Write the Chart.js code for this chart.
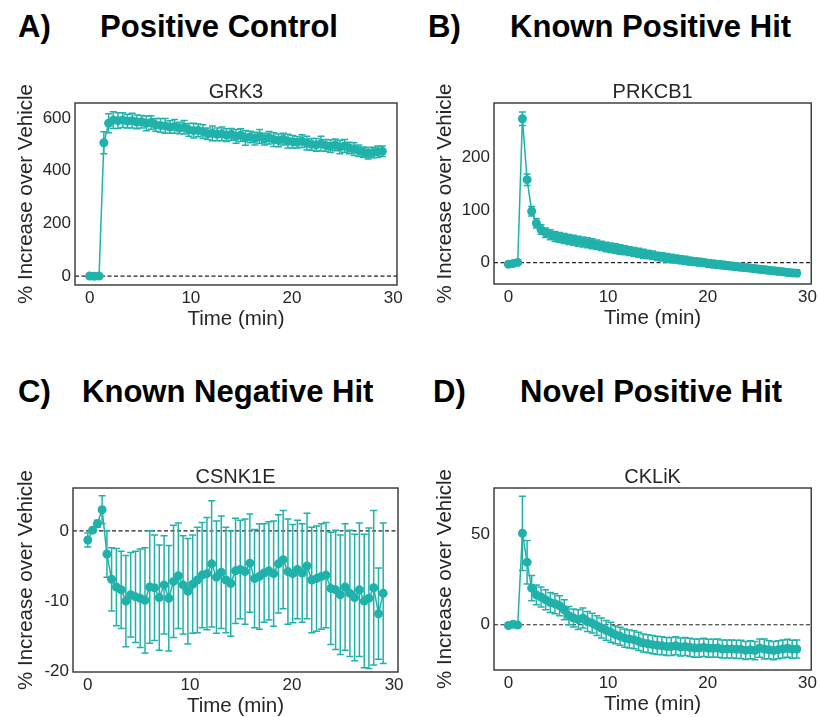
<!DOCTYPE html>
<html>
<head>
<meta charset="utf-8">
<script src="https://cdn.jsdelivr.net/npm/chart.js@4.4.1/dist/chart.umd.min.js"></script>
<style>
  html, body { margin: 0; padding: 0; background: #fff; }
  body { width: 820px; height: 717px; position: relative; overflow: hidden; }
  canvas { position: absolute; }
  .head {
    position: absolute; font: bold 32px 'Liberation Sans', Arial, sans-serif;
    line-height: 1; color: #000; white-space: nowrap;
    transform: scaleX(0.97); transform-origin: left top;
  }
</style>
</head>
<body>
<div class="head" style="left:18px;top:10px">A)</div>
<div class="head" style="left:100px;top:10px">Positive Control</div>
<div class="head" style="left:428px;top:10px">B)</div>
<div class="head" style="left:510px;top:10px">Known Positive Hit</div>
<div class="head" style="left:18px;top:375px">C)</div>
<div class="head" style="left:82px;top:375px">Known Negative Hit</div>
<div class="head" style="left:433px;top:375px">D)</div>
<div class="head" style="left:520px;top:375px">Novel Positive Hit</div>

<canvas id="chartA" width="410" height="275" style="left:0px;top:60px"></canvas>
<canvas id="chartB" width="402" height="275" style="left:418px;top:60px"></canvas>
<canvas id="chartC" width="410" height="275" style="left:0px;top:445px"></canvas>
<canvas id="chartD" width="402" height="275" style="left:418px;top:445px"></canvas>

<script>
// time points (min), one reading every 28 s
const times = [
  0, 0.47, 0.93, 1.4, 1.87, 2.33, 2.8, 3.27, 3.73, 4.2,
  4.67, 5.13, 5.6, 6.07, 6.53, 7.0, 7.47, 7.93, 8.4, 8.87,
  9.33, 9.8, 10.27, 10.73, 11.2, 11.67, 12.13, 12.6, 13.07, 13.53,
  14.0, 14.47, 14.93, 15.4, 15.87, 16.33, 16.8, 17.27, 17.73, 18.2,
  18.67, 19.13, 19.6, 20.07, 20.53, 21.0, 21.47, 21.93, 22.4, 22.87,
  23.33, 23.8, 24.27, 24.73, 25.2, 25.67, 26.13, 26.6, 27.07, 27.53,
  28.0, 28.47, 28.93
];

const grk3 = [
  0, -1, 0, 506, 580, 592, 590, 592, 588, 590,
  585, 586, 580, 583, 574, 572, 570, 566, 568, 562,
  565, 555, 552, 553, 548, 540, 542, 538, 540, 535,
  538, 530, 535, 525, 528, 522, 530, 520, 525, 518,
  515, 520, 512, 510, 508, 512, 505, 500, 498, 503,
  496, 493, 498, 490, 494, 486, 482, 476, 470, 466,
  469, 472, 474
];
const grk3Err = [
  2, 2, 2, 42, 36, 32, 30, 28, 26, 28,
  26, 24, 28, 26, 24, 26, 28, 24, 26, 22,
  26, 24, 28, 24, 26, 22, 28, 24, 26, 24,
  22, 26, 24, 28, 22, 24, 26, 22, 24, 26,
  24, 22, 26, 24, 22, 24, 26, 22, 24, 28,
  22, 24, 22, 26, 24, 22, 24, 22, 20, 22,
  20, 22, 20
];

const prkcb1 = [
  -3, -1.5, 0.5, 274, 158, 98, 75, 63, 57, 53,
  50, 48, 46, 44, 42.5, 41, 39.5, 38, 36, 34,
  32, 30, 28.5, 27, 25, 23.5, 22, 20.5, 19, 17,
  15.5, 14, 12, 11, 9.5, 8, 7, 5.5, 4.5, 3,
  2, 1, 0, -1.5, -2.5, -3.5, -4.5, -5.5, -6.5, -7.5,
  -8.5, -9.5, -10.5, -11.5, -12.5, -13.5, -14.5, -15.5, -16.5, -17.5,
  -18.5, -19.5, -20
];
const prkcb1Err = [
  2, 2, 2, 13, 11, 9, 9, 9, 9, 9.5,
  9.5, 9.5, 9.5, 9.5, 9.5, 9.5, 9.5, 9.5, 9.5, 9,
  9, 9, 9, 9, 9, 8.5, 8.5, 8.5, 8.5, 8.5,
  8, 8, 8, 8, 8, 8, 7.5, 7.5, 7.5, 7.5,
  7.5, 7.5, 7, 7, 7, 7, 7, 7, 7, 7,
  7, 7, 6.5, 6.5, 6.5, 6.5, 6.5, 6.5, 6.5, 6.5,
  6.5, 6.5, 6.5
];

const csnk1e = [
  -1.3, 0.1, 1.0, 3.0, -3.3, -6.9, -8.0, -8.4, -10.0, -9.1,
  -9.4, -9.6, -9.9, -8.0, -8.1, -9.5, -7.7, -9.6, -7.2, -6.4,
  -7.7, -8.6, -7.6, -7.0, -6.3, -6.1, -4.7, -6.6, -5.9, -7.0,
  -7.5, -5.7, -5.5, -5.8, -4.6, -6.8, -6.5, -6.0, -5.7, -6.1,
  -4.7, -4.1, -5.8, -6.1, -5.5, -6.0, -5.0, -7.0, -6.8, -6.5,
  -6.3, -8.2, -8.4, -9.1, -8.0, -8.9, -9.5, -8.4, -10.0, -9.6,
  -8.1, -11.8, -8.9
];
const csnk1eErr = [
  1.0, 0.3, 0.5, 2.0, 3.3, 4.5, 5.5, 5.5, 6.5, 6.0,
  6.5, 7.0, 7.5, 8.0, 7.5, 7.5, 7.0, 7.5, 8.0, 7.5,
  7.0, 7.5, 7.0, 7.5, 7.5, 8.0, 9.0, 8.0, 8.0, 7.5,
  7.5, 7.5, 7.0, 7.5, 7.0, 7.0, 7.5, 7.0, 7.0, 7.5,
  7.0, 7.0, 7.5, 7.0, 7.0, 7.0, 7.5, 7.5, 7.5, 7.5,
  7.5, 8.0, 8.5, 8.5, 9.0, 9.0, 9.0, 9.5, 9.5, 10.0,
  11.0, 6.5, 10.0
];

const cklik = [
  -0.4, 0.3, -0.2, 50.5, 34.5, 20.2, 16.5, 15.3, 13.8, 12.3,
  11.6, 10.5, 8.3, 5.0, 3.7, 2.8, 3.7, 1.8, 0.9, -0.5,
  -1.8, -3.1, -4.2, -5.5, -6.4, -7.4, -7.9, -8.3, -9.2, -10.1,
  -10.5, -11.0, -11.4, -11.6, -12.0, -12.0, -11.6, -12.3, -12.0, -12.5,
  -12.9, -12.9, -12.5, -13.0, -13.0, -12.9, -13.4, -13.4, -13.4, -13.6,
  -13.6, -14.2, -13.8, -14.3, -12.9, -13.4, -13.8, -14.3, -13.8, -13.4,
  -13.0, -13.6, -13.4
];
const cklikErr = [
  0.8, 0.5, 0.8, 20.5, 12, 7, 5.5, 5.5, 5.5, 5.5,
  5.5, 5.5, 5.5, 5, 5, 5.5, 5.5, 5.5, 5.5, 5.5,
  5.5, 5.5, 5.5, 5, 5, 5, 5, 5, 5, 5,
  5, 5, 5, 5, 5, 5, 5, 5, 5, 5,
  5, 5, 5, 5, 5, 5, 5, 5, 5, 5,
  5, 5, 5, 5, 5, 5.5, 5, 5, 5, 5,
  5, 5, 5
];

const xTicks = [0, 10, 20, 30];
const ticksA = [0, 200, 400, 600];
const ticksB = [0, 100, 200];
const ticksC = [-20, -10, 0];
const ticksD = [0, 50];

const teal = '#20b2aa';
const ink = '#262626';
Chart.defaults.font.family = "'Liberation Sans', Arial, sans-serif";
Chart.defaults.color = ink;

// dashed zero line, error bars and the box round the plot
const errorBars = {
  id: 'errorBars',
  beforeDatasetsDraw(chart) {
    const { ctx, chartArea: a, scales: { x, y } } = chart;
    const y0 = y.getPixelForValue(0);
    ctx.save();
    ctx.strokeStyle = '#222';
    ctx.lineWidth = 1.2;
    ctx.setLineDash([4, 2.5]);
    ctx.beginPath();
    ctx.moveTo(a.left, y0);
    ctx.lineTo(a.right, y0);
    ctx.stroke();
    ctx.setLineDash([]);

    const ds = chart.data.datasets[0];
    ctx.strokeStyle = teal;
    ctx.lineWidth = 1.5;
    ds.data.forEach((p, i) => {
      const e = ds.errors[i];
      const px = x.getPixelForValue(p.x);
      const top = y.getPixelForValue(p.y + e);
      const bot = y.getPixelForValue(p.y - e);
      ctx.beginPath();
      ctx.moveTo(px, top); ctx.lineTo(px, bot);
      ctx.moveTo(px - 3.5, top); ctx.lineTo(px + 3.5, top);
      ctx.moveTo(px - 3.5, bot); ctx.lineTo(px + 3.5, bot);
      ctx.stroke();
    });
    ctx.restore();
  },
  afterDraw(chart) {
    const { ctx, chartArea: a } = chart;
    ctx.save();
    ctx.strokeStyle = '#333';
    ctx.lineWidth = 1.4;
    ctx.strokeRect(a.left, a.top, a.right - a.left, a.bottom - a.top);
    ctx.restore();
  }
};

function drawPanel(id, name, values, errors, yTicks, yMin, yMax, box) {
  const ctx = document.getElementById(id).getContext('2d');
  new Chart(ctx, {
    type: 'line',
    data: {
      datasets: [{
        data: times.map((t, i) => ({ x: t, y: values[i] })),
        errors: errors,
        borderColor: teal,
        backgroundColor: teal,
        borderWidth: 1.5,
        pointRadius: 4.5,
        pointBorderWidth: 0,
        pointBackgroundColor: teal,
        tension: 0,
        clip: false
      }]
    },
    options: {
      responsive: false,
      animation: false,
      devicePixelRatio: 1,
      layout: { padding: { left: 0, right: box.padR, top: 0, bottom: 0 } },
      plugins: {
        legend: { display: false },
        tooltip: { enabled: false },
        title: {
          display: true, text: name, color: ink, fullSize: false,
          font: { size: 20, weight: 'normal', lineHeight: 1 },
          padding: { top: 22, bottom: 1 }
        }
      },
      scales: {
        x: {
          type: 'linear', min: -1.45, max: 30.38,
          grid: { display: false, drawTicks: false },
          border: { display: false },
          afterBuildTicks: s => { s.ticks = xTicks.map(v => ({ value: v })); },
          afterFit: s => { s.height = box.xH; },
          ticks: { font: { size: 17 }, padding: 3, maxRotation: 0 },
          title: {
            display: true, text: 'Time (min)', color: ink,
            font: { size: 20.5 }, padding: { top: 0, bottom: box.xPad }
          }
        },
        y: {
          min: yMin, max: yMax,
          grid: { display: false, drawTicks: false },
          border: { display: false },
          afterBuildTicks: s => { s.ticks = yTicks.map(v => ({ value: v })); },
          afterFit: s => { s.width = box.yW; },
          ticks: { font: { size: 17 }, padding: 4 },
          title: {
            display: true, text: '% Increase over Vehicle', color: ink,
            font: { size: 20.5 }, padding: { top: box.yPad, bottom: 0 }
          }
        }
      }
    },
    plugins: [errorBars]
  });
}

drawPanel('chartA', 'GRK3', grk3, grk3Err, ticksA, -34, 657,
  { yW: 75, padR: 13, xH: 50, xPad: 3, yPad: 14 });
drawPanel('chartB', 'PRKCB1', prkcb1, prkcb1Err, ticksB, -40.6, 304,
  { yW: 76, padR: 3, xH: 51, xPad: 4, yPad: 14.7 });
drawPanel('chartC', 'CSNK1E', csnk1e, csnk1eErr, ticksC, -20.1, 6.1,
  { yW: 73, padR: 12, xH: 48, xPad: 1, yPad: 14 });
drawPanel('chartD', 'CKLiK', cklik, cklikErr, ticksD, -25, 75.5,
  { yW: 76, padR: 3, xH: 50, xPad: 3, yPad: 14.7 });
</script>
</body>
</html>
